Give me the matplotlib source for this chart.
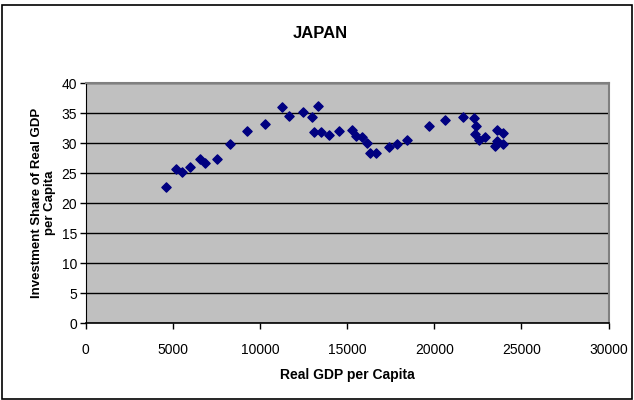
import matplotlib.pyplot as plt
from matplotlib.patches import Rectangle

# Japan: real GDP per capita vs. investment share
gdp = [4623, 5180, 5541, 5983, 6573, 6843, 7514, 8294, 9235, 10285,
       11277, 11661, 12482, 12963, 13342, 13113, 13514, 13939, 14529, 15292,
       15487, 15849, 16153, 16290, 16669, 17397, 17839, 18430, 19692, 20610,
       21659, 22273, 22405, 22348, 22543, 22904, 23575, 23954, 23592, 23460,
       23954]
inv_share = [22.7, 25.7, 25.2, 26.1, 27.3, 26.7, 27.3, 29.8, 32.0, 33.2,
             36.0, 34.6, 35.2, 34.4, 36.2, 31.8, 31.8, 31.4, 32.1, 32.2,
             31.2, 31.0, 30.0, 28.3, 28.3, 29.3, 29.8, 30.6, 32.8, 33.8,
             34.4, 34.2, 32.8, 31.6, 30.6, 31.0, 32.2, 31.7, 30.4, 29.5,
             29.8]

xticks = [0, 5000, 10000, 15000, 20000, 25000, 30000]
yticks = [0, 5, 10, 15, 20, 25, 30, 35, 40]

plt.rcParams['font.family'] = 'Liberation Sans'

fig = plt.figure(figsize=(6.34, 4.0), dpi=100)
ax = fig.add_axes([0.135, 0.192, 0.825, 0.6])

ax.set_facecolor('#C0C0C0')
ax.scatter(gdp, inv_share, marker='D', s=22, color='#000080', zorder=3)

ax.set_xlim(0, 30000)
ax.set_ylim(0, 40)
ax.set_xticks(xticks)
ax.set_yticks(yticks)
ax.tick_params(axis='both', labelsize=10, direction='out', length=4, width=1, color='black')
ax.tick_params(axis='x', pad=10)
ax.tick_params(axis='y', pad=2)

ax.yaxis.grid(True, color='black', linewidth=1)
ax.set_axisbelow(True)

ax.spines['left'].set_color('black')
ax.spines['bottom'].set_color('black')
ax.spines['bottom'].set_linewidth(1.2)
ax.spines['top'].set_color('#808080')
ax.spines['right'].set_color('#808080')
ax.spines['top'].set_linewidth(1.5)
ax.spines['right'].set_linewidth(1.5)

ax.set_xlabel('Real GDP per Capita', fontsize=10, fontweight='bold', labelpad=8)
ax.set_ylabel('Investment Share of Real GDP\nper Capita', fontsize=9.5,
              fontweight='bold', labelpad=4, linespacing=1.15)
fig.text(0.505, 0.917, 'JAPAN', ha='center', va='center', fontsize=12, fontweight='bold')

# outer chart frame
fig.patches.append(Rectangle((0.003, 0.003), 0.994, 0.985, transform=fig.transFigure,
                             fill=False, edgecolor='black', linewidth=1.2))

plt.savefig('out.png', dpi=100)
